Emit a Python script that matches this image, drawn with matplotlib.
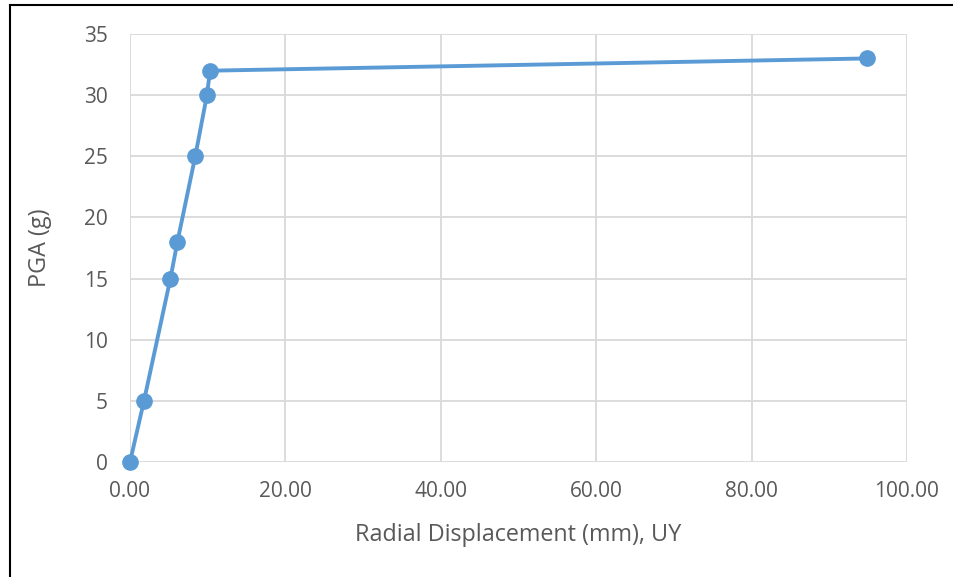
import matplotlib.pyplot as plt
from matplotlib.lines import Line2D

# Radial displacement (mm) vs PGA (g)
displacement = [0.0, 1.8, 5.2, 6.1, 8.4, 9.9, 10.3, 94.8]
pga = [0, 5, 15, 18, 25, 30, 32, 33]

x_ticks = [0, 20, 40, 60, 80, 100]
y_ticks = [0, 5, 10, 15, 20, 25, 30, 35]

plt.rcParams['font.family'] = ['Open Sans', 'DejaVu Sans']

fig = plt.figure(figsize=(9.61, 5.77), dpi=100)
ax = fig.add_axes([130 / 961, 1 - 462 / 577, (907 - 130) / 961, (462 - 34) / 577])

ax.plot(displacement, pga, color='#5B9BD5', linewidth=2.8, marker='o',
        markersize=11, zorder=3, clip_on=False)

ax.set_xlim(0, 100)
ax.set_ylim(0, 35)
ax.set_xticks(x_ticks)
ax.set_xticklabels([f"{v:.2f}" for v in x_ticks])
ax.set_yticks(y_ticks)

ax.grid(True, color='#D9D9D9', linewidth=1.3)
ax.set_axisbelow(True)
for side in ['top', 'right', 'left', 'bottom']:
    ax.spines[side].set_visible(False)
ax.tick_params(length=0, labelsize=15, colors='#595959')
ax.tick_params(axis='x', pad=14)
ax.tick_params(axis='y', pad=16)

ax.set_xlabel("Radial Displacement (mm), UY", fontsize=16.8, color='#595959', labelpad=15)
ax.set_ylabel("PGA (g)", fontsize=16.8, color='#595959', labelpad=23)

# frame lines of the screenshot (left and top)
fig.add_artist(Line2D([9.5 / 961, 9.5 / 961], [0, 1 - 5 / 577], color='black', linewidth=1.5))
fig.add_artist(Line2D([9.5 / 961, 952 / 961], [1 - 5 / 577, 1 - 5 / 577], color='black', linewidth=1.5))

fig.savefig('out.png', dpi=100)
